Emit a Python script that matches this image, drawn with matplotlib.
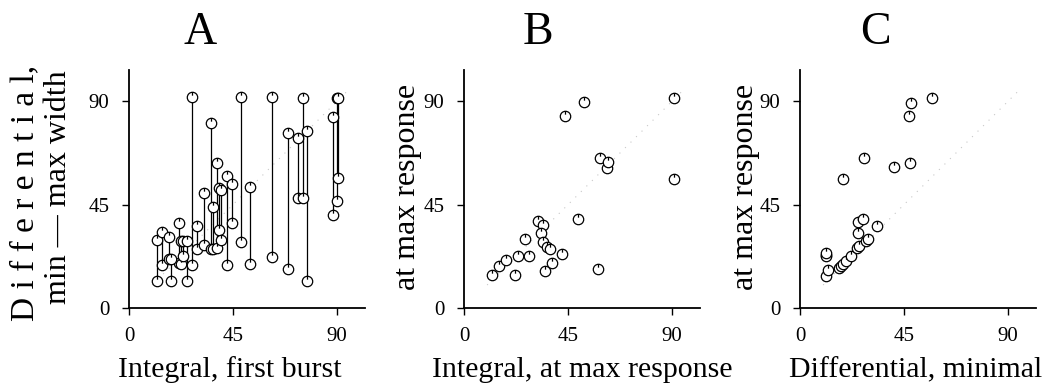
import matplotlib
matplotlib.use("Agg")
import matplotlib.pyplot as plt
import numpy as np
from matplotlib.path import Path

plt.rcParams['font.family'] = ['Liberation Serif', 'DejaVu Serif']

# Panel A: vertical segments, x = first burst integral, min/max widths
a_x = [12.2, 14.1, 17.4, 18.0, 21.7, 22.4, 23.5, 25.2, 27.3, 29.3, 32.5,
       35.5, 36.2, 38.2, 38.9, 39.6, 42.3, 44.4, 48.3, 52.1, 61.9, 68.9,
       73.1, 75.3, 76.9, 88.0, 90.0, 90.3]
a_low = [11.7, 18.6, 21.1, 11.7, 19.5, 19.2, 22.5, 11.7, 18.5, 25.8, 27.6,
         25.7, 25.7, 25.9, 34.1, 29.7, 18.6, 36.9, 28.7, 19.2, 22.1, 16.9,
         47.8, 47.8, 11.6, 40.5, 46.6, 56.4]
a_high = [29.7, 33.0, 30.7, 21.1, 36.9, 29.0, 29.0, 29.0, 91.6, 35.8, 49.9,
          80.3, 43.9, 63.2, 52.4, 51.5, 57.4, 54.0, 91.6, 52.8, 91.6, 76.3,
          73.8, 91.2, 77.1, 82.9, 91.2, 91.2]

# Panel B: integral at max response vs differential at max response
b_x = [11.9, 15.0, 18.0, 22.2, 23.2, 26.4, 28.1, 32.1, 34.1, 33.2, 34.1,
       35.8, 37.0, 35.0, 38.1, 42.3, 43.6, 49.3, 51.7, 58.0, 58.7, 61.6,
       62.4, 90.7, 90.7]
b_y = [14.5, 18.3, 20.8, 14.5, 22.5, 29.8, 22.5, 37.9, 36.0, 32.7, 28.7,
       26.6, 25.5, 16.1, 19.7, 23.7, 83.6, 38.9, 89.7, 17.1, 65.3, 61.0,
       63.3, 91.4, 55.9]

# Panel C: differential minimal vs differential at max response
c_x = [11.1, 11.1, 11.4, 11.1, 12.3, 16.7, 17.6, 18.6, 19.7, 22.0, 24.7,
       25.7, 28.6, 29.6, 25.0, 25.0, 27.3, 33.3, 18.4, 27.7, 40.6, 47.6,
       46.9, 48.0, 56.9]
c_y = [23.0, 22.4, 23.9, 14.0, 16.6, 17.2, 18.4, 19.1, 20.5, 22.7, 25.9,
       26.8, 29.2, 30.0, 32.8, 37.6, 38.6, 35.5, 56.0, 65.3, 61.1, 63.0,
       83.4, 89.3, 91.3]

ticks = [0, 45, 90]
identity = [10, 95]

titles = ['A', 'B', 'C']
xlabels = ['Integral, first burst', 'Integral, at max response',
           'Differential, minimal']

# circle with a small stroke at the top, like the plotter symbol
marker = Path.make_compound_path(
    Path.unit_circle(),
    Path([[0, 1.0], [0, 0.35]], [Path.MOVETO, Path.LINETO]))

W, H = 1043, 390
fig = plt.figure(figsize=(W / 100, H / 100), dpi=100)

lefts = [129, 464, 800]
axes = []
for left in lefts:
    ax = fig.add_axes([left / W, (H - 308) / H, 236 / W, 238 / H])
    axes.append(ax)

for ax in axes:
    ax.set_xlim(0, 102)
    ax.set_ylim(0, 103.5)
    ax.set_xticks(ticks)
    ax.set_yticks(ticks)
    ax.spines['top'].set_visible(False)
    ax.spines['right'].set_visible(False)
    ax.spines['left'].set_linewidth(1.3)
    ax.spines['bottom'].set_linewidth(1.3)
    ax.tick_params(direction='out', length=5, width=1, labelsize=15)
    ax.tick_params(axis='x', pad=9)
    ax.tick_params(axis='y', pad=9)
    ax.plot(identity, identity, color='#c8c8c8', ls=(0, (1, 6)), lw=0.8,
            zorder=1)

mk = dict(marker=marker, ls='none', ms=7.5, mfc='white', mec='black',
          mew=0.9, zorder=3)

ax = axes[0]
ax.vlines(a_x, a_low, a_high, color='black', lw=0.9, zorder=2)
ax.plot(a_x, a_low, **mk)
ax.plot(a_x, a_high, **mk)

axes[1].plot(b_x, b_y, **mk)
axes[2].plot(c_x, c_y, **mk)

# titles and labels
title_x = [200, 538, 875]
for tx, t in zip(title_x, titles):
    fig.text(tx / W, 1 - 33 / H, t, ha='center', va='center', fontsize=33)

xlabel_x = [230, 582, 916]
for lx, t in zip(xlabel_x, xlabels):
    fig.text(lx / W, 1 - 370 / H, t, ha='center', va='center',
             fontsize=21.5)

fig.text(25 / W, 1 - 193 / H, 'D i f f e r e n t i a l,', rotation=90,
         ha='center', va='center', fontsize=24)
fig.text(58 / W, 1 - 187 / H, 'min \u2014 max width', rotation=90,
         ha='center', va='center', fontsize=23)
fig.text(408 / W, 1 - 187 / H, 'at max response', rotation=90,
         ha='center', va='center', fontsize=23)
fig.text(745 / W, 1 - 187 / H, 'at max response', rotation=90,
         ha='center', va='center', fontsize=23)

fig.savefig('out.png', dpi=100, facecolor='white')
